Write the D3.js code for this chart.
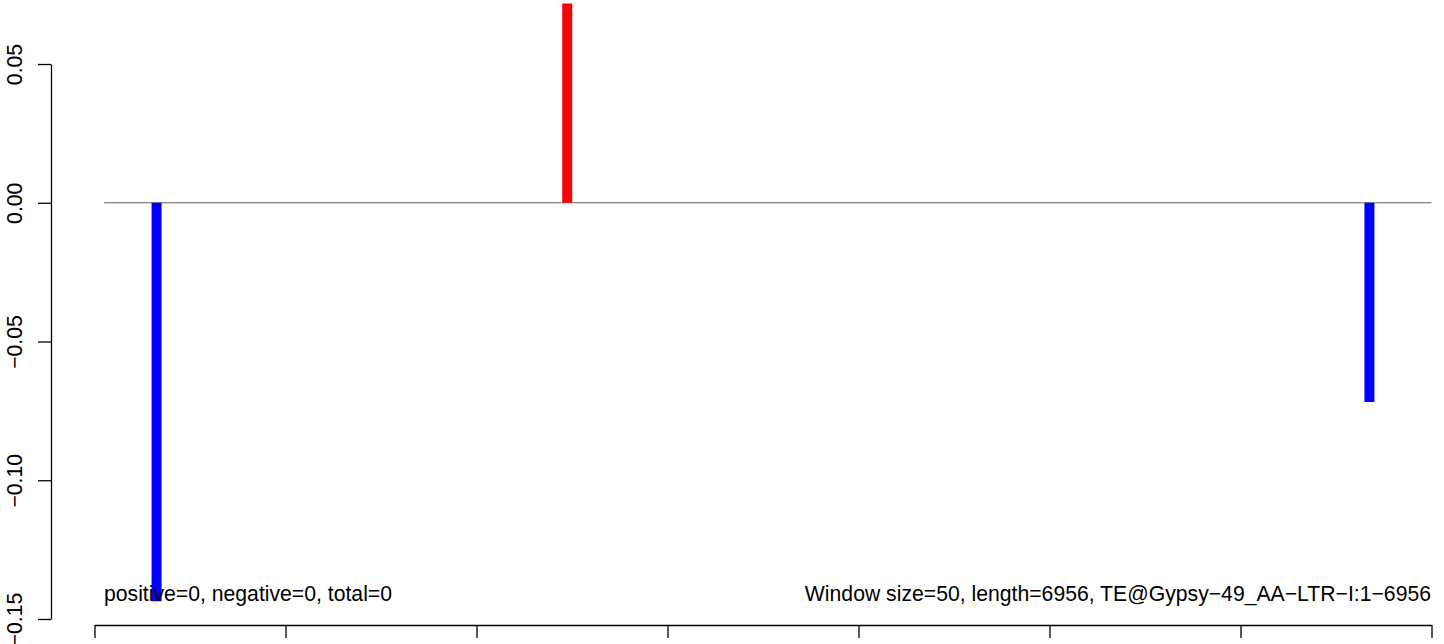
<!DOCTYPE html>
<html>
<head>
<meta charset="utf-8">
<script src="https://cdn.jsdelivr.net/npm/d3@7"></script>
<style>
  html, body { margin: 0; padding: 0; background: #fff; }
  svg { display: block; font-family: "Liberation Sans", Arial, Helvetica, sans-serif; }
</style>
</head>
<body>
<svg id="chart" width="1444" height="644"></svg>
<script>
// ---- data ----
const positions = [325, 2475, 6675];
const values = [-0.1436, 0.0718, -0.0718];
const yTicks = [-0.15, -0.10, -0.05, 0.00, 0.05];
const xTicks = [0, 1000, 2000, 3000, 4000, 5000, 6000, 7000];
const zeroLineRange = [50, 7000];
const leftNote = "positive=0, negative=0, total=0";
const rightNote = "Window size=50, length=6956, TE@Gypsy\u221249_AA\u2212LTR\u2212I:1\u22126956";

// ---- layout ----
const FS = 21.2;
const svg = d3.select("#chart");
const x = d3.scaleLinear().domain([0, 7000]).range([94.5, 1431.5]);
const y = d3.scaleLinear().domain([-0.15, 0.05]).range([619, 64]);

// zero line
svg.append("line")
  .attr("x1", x(zeroLineRange[0])).attr("x2", x(zeroLineRange[1]))
  .attr("y1", y(0)).attr("y2", y(0))
  .attr("stroke", "#666").attr("stroke-width", 1);

// bars
const data = positions.map((p, i) => ({ p, v: values[i] }));
const barW = 10;
svg.append("g").selectAll("rect").data(data).join("rect")
  .attr("x", d => x(d.p) - barW / 2)
  .attr("width", barW)
  .attr("y", d => Math.min(y(d.v), y(0)))
  .attr("height", d => Math.abs(y(d.v) - y(0)))
  .attr("fill", d => d.v >= 0 ? "#ff0000" : "#0000ff");

// y axis
const yAxis = d3.axisLeft(y).tickValues(yTicks).tickSize(13).tickSizeOuter(0)
  .tickFormat(d => d3.format(".2f")(d).replace("-", "\u2212"));
const gy = svg.append("g").attr("transform", "translate(51,0)").call(yAxis);
gy.select(".domain").attr("stroke", "#000").attr("stroke-width", 1.3);
gy.selectAll(".tick line").attr("stroke", "#000").attr("stroke-width", 1.3);
gy.selectAll(".tick text")
  .attr("font-size", FS)
  .attr("fill", "#000")
  .attr("text-anchor", "middle")
  .attr("x", 0).attr("dy", 0)
  .attr("transform", "translate(-29,0) rotate(-90)");

// x axis
const xAxis = d3.axisBottom(x).tickValues(xTicks).tickSize(13).tickSizeOuter(0).tickFormat("");
const gx = svg.append("g").attr("transform", "translate(0,625)").call(xAxis);
gx.select(".domain").attr("stroke", "#000").attr("stroke-width", 1.3);
gx.selectAll(".tick line").attr("stroke", "#000").attr("stroke-width", 1.3);

// notes
svg.append("text").attr("x", 104).attr("y", 601)
  .attr("font-size", FS).attr("fill", "#000").text(leftNote);
svg.append("text").attr("x", 1431).attr("y", 601).attr("text-anchor", "end")
  .attr("font-size", FS).attr("fill", "#000").text(rightNote);
</script>
</body>
</html>
